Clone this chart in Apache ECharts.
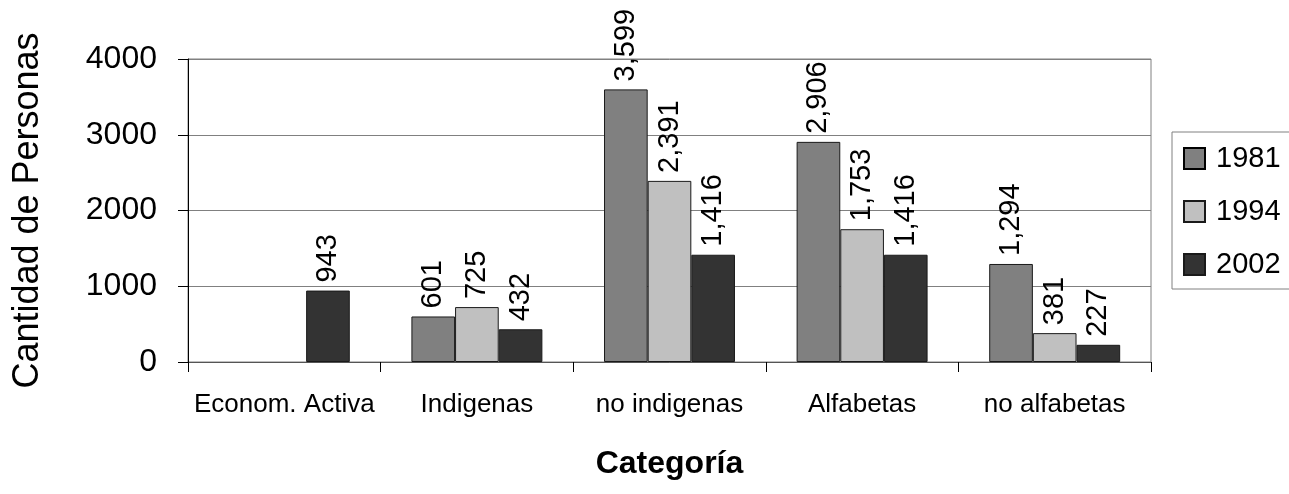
<!DOCTYPE html>
<html>
<head>
<meta charset="utf-8">
<title>Cantidad de Personas por Categoría</title>
<script src="https://cdn.jsdelivr.net/npm/echarts@6/dist/echarts.min.js"></script>
<style>
  html, body { margin: 0; padding: 0; background: #ffffff; }
  #chart { width: 1289px; height: 494px; }
</style>
</head>
<body>
<div id="chart"></div>
<script>
// Categories on the x axis
const categories = ['Econom. Activa', 'Indigenas', 'no indigenas', 'Alfabetas', 'no alfabetas'];

// Values per census year (null = no data for that category)
const values1981 = [null, 601, 3599, 2906, 1294];
const values1994 = [null, 725, 2391, 1753, 381];
const values2002 = [943, 432, 1416, 1416, 227];

// Y axis ticks
const yTicks = [0, 1000, 2000, 3000, 4000];

const years = ['1981', '1994', '2002'];
const yearValues = [values1981, values1994, values2002];
const barColors = ['#808080', '#c0c0c0', '#333333'];

const FONT = '"Liberation Sans", Arial, sans-serif';

const chart = echarts.init(document.getElementById('chart'), null, { renderer: 'canvas' });

const series = years.map((y, i) => ({
  name: y,
  type: 'bar',
  data: yearValues[i],
  barGap: '0%',
  barCategoryGap: '32%',
  itemStyle: { color: barColors[i], borderColor: '#1a1a1a', borderWidth: 1 },
  emphasis: { disabled: true },
  label: {
    show: true,
    position: 'top',
    distance: 8,
    rotate: 90,
    align: 'left',
    verticalAlign: 'middle',
    color: '#000',
    fontFamily: FONT,
    fontSize: 29,
    formatter: p => (p.value == null ? '' : Number(p.value).toLocaleString('en-US'))
  }
}));

chart.setOption({
  backgroundColor: '#ffffff',
  animation: false,
  grid: {
    left: 188, right: 138, top: 59, bottom: 132,
    show: true, borderColor: '#808080', borderWidth: 1
  },
  legend: {
    orient: 'vertical',
    left: 1172, top: 132,
    padding: [12, 40, 10, 11],
    itemGap: 24,
    itemWidth: 21, itemHeight: 21,
    borderColor: '#808080', borderWidth: 1,
    selectedMode: false,
    icon: 'rect',
    textStyle: { color: '#000', fontFamily: FONT, fontSize: 29, padding: [0, 0, 0, 6] },
    data: [
      { name: '1981', itemStyle: { borderColor: '#000', borderWidth: 2 } },
      { name: '1994' },
      { name: '2002' }
    ]
  },
  xAxis: {
    type: 'category',
    data: categories,
    name: 'Categoría',
    nameLocation: 'middle',
    nameGap: 86,
    nameTextStyle: { color: '#000', fontFamily: FONT, fontSize: 32, fontWeight: 'bold' },
    axisLine: { lineStyle: { color: '#555555', width: 1 } },
    axisTick: { show: true, length: 10, lineStyle: { color: '#000' } },
    axisLabel: { interval: 0, margin: 30, color: '#000', fontFamily: FONT, fontSize: 26 },
    splitLine: { show: false }
  },
  yAxis: {
    type: 'value',
    min: yTicks[0],
    max: yTicks[yTicks.length - 1],
    interval: yTicks[1] - yTicks[0],
    name: 'Cantidad de Personas',
    nameLocation: 'middle',
    nameGap: 142,
    nameTextStyle: { color: '#000', fontFamily: FONT, fontSize: 36 },
    axisLine: { show: true, lineStyle: { color: '#000', width: 1 } },
    axisTick: { show: true, length: 10, lineStyle: { color: '#000' } },
    axisLabel: { margin: 31, color: '#000', fontFamily: FONT, fontSize: 32, formatter: v => String(v) },
    splitLine: { show: true, lineStyle: { color: '#808080', width: 1 } }
  },
  series: series
});
</script>
</body>
</html>
